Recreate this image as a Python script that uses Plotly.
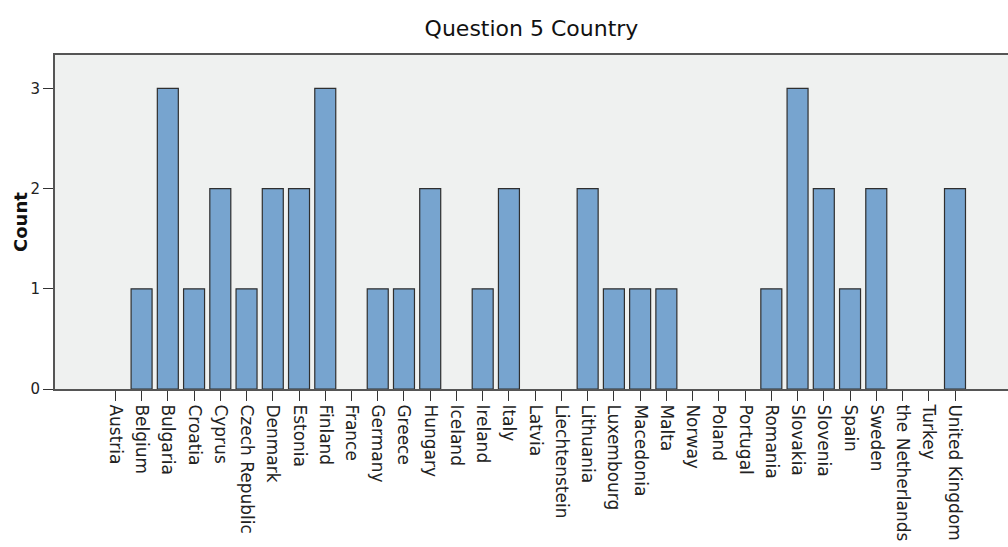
import plotly.graph_objects as go

countries = [
    "Austria", "Belgium", "Bulgaria", "Croatia", "Cyprus", "Czech Republic",
    "Denmark", "Estonia", "Finland", "France", "Germany", "Greece", "Hungary",
    "Iceland", "Ireland", "Italy", "Latvia", "Liechtenstein", "Lithuania",
    "Luxembourg", "Macedonia", "Malta", "Norway", "Poland", "Portugal",
    "Romania", "Slovakia", "Slovenia", "Spain", "Sweden", "the Netherlands",
    "Turkey", "United Kingdom",
]
counts = [
    0, 1, 3, 1, 2, 1,
    2, 2, 3, 0, 1, 1, 2,
    0, 1, 2, 0, 0, 2,
    1, 1, 1, 0, 0, 0,
    1, 3, 2, 1, 2, 0,
    0, 2,
]
y_ticks = [0, 1, 2, 3]

FONT = "DejaVu Sans"
FRAME = "#555555"

# empty categories keep their slot on the axis but draw no bar outline
bar_heights = [c if c > 0 else None for c in counts]

fig = go.Figure(
    go.Bar(
        x=countries,
        y=bar_heights,
        marker=dict(color="#77a4cf", line=dict(color="#2f2f2f", width=1.2)),
        width=0.8,
    )
)

fig.update_layout(
    width=1008,
    height=547,
    margin=dict(l=55, r=0, t=55, b=158, autoexpand=False),
    paper_bgcolor="white",
    plot_bgcolor="#eff1f0",
    showlegend=False,
    title=dict(
        text="Question 5 Country",
        x=0.5, xref="paper", xanchor="center",
        y=1 - 28 / 547, yref="container", yanchor="middle",
        font=dict(family=FONT, size=22, color="#111111"),
    ),
    annotations=[
        dict(
            text="Count",
            textangle=-90,
            xref="paper", yref="paper",
            x=-35 / 953, y=0.5,
            xanchor="center", yanchor="middle",
            showarrow=False,
            font=dict(family=FONT, size=18, color="#111111", weight="bold"),
        )
    ],
    bargap=0.2,
)

fig.update_xaxes(
    type="category",
    range=[-2.30, 34.02],
    automargin=False,
    showgrid=False,
    zeroline=False,
    showline=True,
    mirror=True,
    linecolor=FRAME,
    linewidth=2,
    ticks="outside",
    ticklen=10,
    tickwidth=1,
    tickcolor="#333333",
    tickangle=90,
    tickfont=dict(family=FONT, size=17, color="#222222"),
)

fig.update_yaxes(
    range=[0, 3.333],
    automargin=False,
    tickvals=y_ticks,
    ticktext=[str(v) for v in y_ticks],
    showgrid=False,
    zeroline=False,
    showline=True,
    mirror=False,
    linecolor=FRAME,
    linewidth=2,
    ticks="outside",
    ticklen=10,
    tickwidth=1,
    tickcolor="#333333",
    tickfont=dict(family=FONT, size=15, color="#222222"),
)

fig.write_html("out.html")
